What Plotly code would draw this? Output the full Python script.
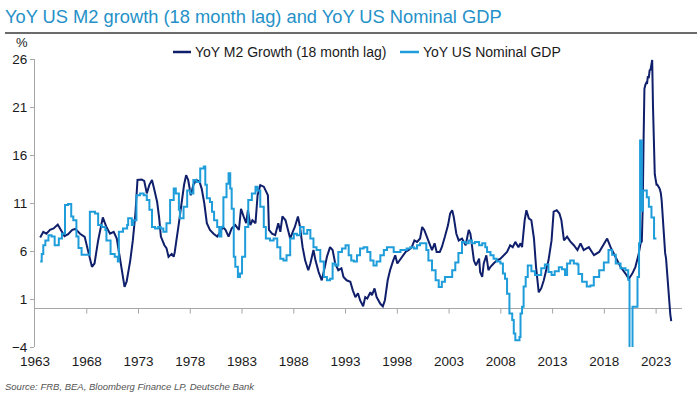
import plotly.graph_objects as go

# ---------------- data ----------------
m2_year = [1963.5, 1963.8, 1964.1, 1964.45, 1964.8, 1965.2, 1965.5, 1965.85, 1966.2, 1966.6,
           1966.9, 1967.35, 1967.8, 1968.1, 1968.5, 1968.75, 1969.1, 1969.55, 1969.9, 1970.25,
           1970.6, 1970.9, 1971.3, 1971.65, 1971.85, 1972.2, 1972.45, 1972.7, 1972.9, 1973.3,
           1973.55, 1973.8, 1974.05, 1974.3, 1974.5, 1974.8, 1975.0, 1975.16, 1975.5, 1975.7,
           1975.9, 1976.2, 1976.4, 1976.5, 1976.9, 1977.2, 1977.4, 1977.6, 1977.8, 1978.05,
           1978.3, 1978.6, 1978.9, 1979.1, 1979.35, 1979.6, 1979.9, 1980.25, 1980.6, 1980.9,
           1981.15, 1981.4, 1981.7, 1982.0, 1982.35, 1982.7, 1982.9, 1983.15, 1983.4, 1983.57,
           1983.8, 1984.0, 1984.3, 1984.5, 1984.76, 1985.1, 1985.3, 1985.5, 1985.6, 1985.9,
           1986.2, 1986.5, 1986.7, 1986.9, 1987.2, 1987.4, 1987.65, 1987.9, 1988.1, 1988.4,
           1988.6, 1988.85, 1989.1, 1989.4, 1989.6, 1989.9, 1990.1, 1990.4, 1990.7, 1991.0,
           1991.2, 1991.5, 1991.75, 1992.0, 1992.3, 1992.6, 1992.8, 1993.1, 1993.46, 1993.7,
           1993.95, 1994.2, 1994.4, 1994.7, 1994.9, 1995.1, 1995.4, 1995.55, 1995.8, 1996.0,
           1996.36, 1996.6, 1996.8, 1997.07, 1997.3, 1997.6, 1997.8, 1998.0, 1998.3, 1998.55,
           1998.8, 1999.1, 1999.4, 1999.65, 1999.9, 2000.2, 2000.4, 2000.6, 2000.9, 2001.1,
           2001.35, 2001.6, 2001.8, 2002.1, 2002.3, 2002.6, 2002.9, 2003.1, 2003.3, 2003.45,
           2003.7, 2003.93, 2004.25, 2004.6, 2004.9, 2005.06, 2005.4, 2005.6, 2005.9, 2006.0,
           2006.2, 2006.35, 2006.6, 2006.8, 2007.0, 2007.3, 2007.6, 2007.96, 2008.3, 2008.6,
           2008.9, 2009.15, 2009.4, 2009.7, 2009.9, 2010.05, 2010.3, 2010.47, 2010.7, 2010.95,
           2011.2, 2011.4, 2011.66, 2011.9, 2012.15, 2012.4, 2012.6, 2012.9, 2013.1, 2013.4,
           2013.66, 2013.85, 2014.1, 2014.4, 2014.7, 2015.05, 2015.4, 2015.7, 2016.0, 2016.5,
           2017.0, 2017.5, 2017.8, 2018.1, 2018.27, 2018.6, 2019.1, 2019.56, 2020.04, 2020.36,
           2020.7, 2021.0, 2021.3, 2021.5, 2021.62, 2021.7, 2021.79, 2021.87, 2021.96, 2022.04,
           2022.12, 2022.2, 2022.29, 2022.37, 2022.46, 2022.54, 2022.62, 2022.7, 2022.79, 2022.87,
           2022.96, 2023.04, 2023.12, 2023.21, 2023.29, 2023.37, 2023.46, 2023.54, 2023.62, 2023.71,
           2023.79, 2023.87, 2023.96, 2024.04, 2024.12, 2024.21, 2024.29, 2024.37, 2024.46]
m2_value = [7.4, 8.0, 7.8, 8.2, 8.35, 8.76, 8.2, 7.55, 7.75, 8.2,
            8.3, 7.8, 7.48, 6.1, 4.35, 4.7, 7.1, 9.5, 8.5, 7.8,
            8.0, 7.3, 4.7, 2.26, 2.8, 5.0, 7.1, 9.9, 13.4, 13.45,
            13.3, 12.0, 12.9, 13.4, 12.5, 11.1, 9.4, 7.5, 6.6, 6.3,
            5.4, 5.7, 5.4, 5.9, 8.9, 11.6, 12.9, 13.9, 13.4, 11.8,
            12.9, 13.4, 13.2, 12.5, 11.0, 8.9, 8.2, 7.8, 7.5, 8.0,
            8.5, 8.2, 7.5, 8.35, 8.7, 8.2, 10.4, 9.6, 8.9, 10.25,
            8.7, 9.2, 8.9, 11.8, 12.86, 12.7, 12.3, 11.8, 8.2, 7.8,
            7.65, 8.9, 8.0, 9.6, 9.2, 8.2, 7.3, 8.0, 8.5, 9.6,
            8.5, 6.4, 5.0, 4.0, 4.7, 6.1, 5.0, 3.8, 2.95, 4.35,
            5.4, 6.4, 6.1, 4.7, 4.0, 4.2, 3.3, 2.95, 2.8, 1.9,
            1.2, 1.6, 0.87, 0.24, 1.2, 1.05, 1.7, 1.4, 2.1, 1.2,
            0.5, 0.24, 0.87, 2.95, 4.0, 5.0, 5.55, 4.7, 5.2, 5.55,
            5.9, 6.1, 6.4, 7.1, 6.95, 7.3, 8.5, 8.2, 7.3, 6.8,
            6.1, 6.8, 5.9, 5.9, 6.4, 7.5, 8.7, 9.9, 10.25, 9.55,
            7.8, 7.1, 7.3, 6.6, 8.2, 7.8, 5.0, 4.5, 5.2, 3.8,
            3.3, 4.7, 5.55, 4.0, 4.35, 4.7, 5.0, 5.2, 5.55, 5.9,
            6.6, 6.4, 6.95, 6.4, 6.8, 6.4, 9.2, 10.25, 9.4, 9.2,
            7.3, 4.35, 1.7, 2.1, 2.95, 4.0, 5.0, 7.1, 10.1, 10.25,
            9.9, 9.2, 7.1, 7.5, 7.0, 6.6, 6.1, 6.8, 6.1, 6.4,
            5.56, 5.9, 6.4, 7.0, 7.3, 6.4, 5.4, 4.35, 3.65, 3.1,
            3.65, 4.35, 5.6, 6.8, 7.0, 10.3, 17.6, 22.9, 23.3, 23.5,
            23.4, 24.2, 24.0, 24.8, 24.9, 25.3, 25.9, 21.0, 16.5, 14.0,
            13.4, 12.9, 12.9, 12.8, 12.6, 12.4, 12.0, 11.2, 9.8, 7.9,
            6.5, 5.8, 5.2, 4.0, 2.7, 1.5, 0.4, -0.6, -1.3]

gdp_year = [1963.5, 1963.65, 1963.8, 1964.0, 1964.3, 1964.6, 1964.9, 1965.3, 1965.6, 1965.9,
            1966.2, 1966.5, 1966.7, 1967.0, 1967.2, 1967.5, 1968.0, 1968.3, 1968.8, 1969.1,
            1969.45, 1969.8, 1969.9, 1970.3, 1970.7, 1971.0, 1971.1, 1971.5, 1971.9, 1972.0,
            1972.35, 1972.5, 1972.8, 1973.15, 1973.5, 1973.8, 1974.05, 1974.3, 1974.6, 1974.9,
            1975.15, 1975.4, 1975.7, 1976.05, 1976.4, 1976.6, 1976.9, 1977.0, 1977.35, 1977.7,
            1978.0, 1978.3, 1978.6, 1978.96, 1979.3, 1979.45, 1979.6, 1979.9, 1980.1, 1980.3,
            1980.6, 1980.8, 1981.0, 1981.2, 1981.5, 1981.7, 1981.86, 1982.0, 1982.2, 1982.35,
            1982.6, 1982.8, 1983.0, 1983.3, 1983.6, 1983.95, 1984.3, 1984.5, 1984.76, 1985.1,
            1985.3, 1985.7, 1986.05, 1986.4, 1986.7, 1987.0, 1987.3, 1987.65, 1988.0, 1988.3,
            1988.6, 1988.95, 1989.3, 1989.6, 1989.9, 1990.2, 1990.56, 1990.9, 1991.2, 1991.5,
            1991.75, 1992.0, 1992.3, 1992.65, 1993.0, 1993.3, 1993.55, 1993.8, 1994.1, 1994.4,
            1994.75, 1995.1, 1995.4, 1995.7, 1996.0, 1996.36, 1996.7, 1997.0, 1997.3, 1997.65,
            1997.97, 1998.3, 1998.6, 1998.9, 1999.26, 1999.6, 1999.9, 2000.2, 2000.55, 2000.8,
            2001.0, 2001.35, 2001.7, 2002.0, 2002.3, 2002.6, 2002.97, 2003.3, 2003.6, 2003.9,
            2004.25, 2004.6, 2004.9, 2005.2, 2005.5, 2005.9, 2006.2, 2006.5, 2006.67, 2007.0,
            2007.3, 2007.6, 2007.96, 2008.2, 2008.4, 2008.6, 2008.83, 2009.1, 2009.25, 2009.4,
            2009.66, 2009.8, 2009.9, 2010.05, 2010.2, 2010.4, 2010.6, 2010.95, 2011.3, 2011.6,
            2011.9, 2012.25, 2012.6, 2012.9, 2013.2, 2013.6, 2013.9, 2014.2, 2014.4, 2014.7,
            2015.05, 2015.4, 2015.5, 2015.85, 2016.3, 2016.65, 2016.98, 2017.5, 2017.95, 2018.4,
            2018.75, 2019.1, 2019.56, 2020.04, 2020.3, 2020.43, 2020.72, 2021.2, 2021.35, 2021.45,
            2021.62, 2021.72, 2022.1, 2022.3, 2022.55, 2022.8, 2023.03]
gdp_value = [4.9, 5.7, 6.6, 7.1, 7.65, 7.5, 6.6, 7.3, 7.8, 10.8,
             10.9, 9.6, 9.2, 7.5, 6.3, 5.6, 5.6, 10.1, 9.9, 8.7,
             8.5, 8.2, 7.1, 5.7, 5.4, 4.9, 8.0, 8.35, 8.7, 9.4,
             8.7, 9.2, 11.8, 12.0, 11.8, 11.3, 10.3, 8.5, 8.35, 8.5,
             8.35, 8.0, 8.9, 11.3, 12.5, 12.0, 10.3, 9.4, 10.6, 12.3,
             12.0, 13.4, 13.2, 14.6, 14.8, 12.9, 11.5, 11.1, 10.1, 9.2,
             8.5, 7.5, 8.5, 11.6, 13.0, 14.1, 12.5, 10.4, 5.4, 4.35,
             3.3, 3.65, 5.4, 8.5, 11.3, 12.0, 12.7, 12.3, 10.6, 8.5,
             7.3, 7.1, 7.3, 6.4, 5.2, 5.0, 5.55, 7.3, 7.8, 7.65,
             8.5, 7.8, 8.2, 7.3, 6.4, 6.1, 4.9, 3.3, 2.95, 3.1,
             4.7, 4.5, 5.9, 6.25, 6.6, 5.55, 5.0, 4.9, 5.55, 6.25,
             6.4, 5.9, 5.0, 4.5, 4.9, 5.55, 6.1, 6.4, 6.4, 5.9,
             5.9, 6.1, 6.1, 6.25, 6.4, 6.25, 6.6, 6.8, 6.8, 6.1,
             5.0, 4.0, 2.95, 2.26, 2.8, 3.3, 3.3, 4.0, 4.8, 5.8,
             6.95, 6.8, 7.1, 6.8, 6.95, 6.6, 6.8, 6.4, 5.9, 5.55,
             5.2, 4.9, 4.7, 3.65, 3.1, 1.55, -0.5, -1.2, -2.6, -3.3,
             -3.3, -2.95, -0.5, 0.2, 2.3, 3.3, 4.5, 3.9, 3.5, 3.5,
             4.2, 4.6, 3.8, 3.5, 3.9, 4.3, 4.1, 3.5, 4.7, 5.0,
             4.7, 4.6, 3.6, 2.8, 2.3, 2.4, 3.3, 4.0, 4.8, 6.1,
             5.6, 4.7, 4.2, 4.0, 3.0, -8.0, 0.2, 3.3, 6.8, 17.5,
             10.2, 12.3, 11.6, 10.6, 9.5, 7.3, 7.3]

tick_years = [1963, 1968, 1973, 1978, 1983, 1988, 1993, 1998, 2003, 2008, 2013, 2018, 2023]
tick_labels = [str(t) for t in tick_years]
y_ticks = [-4, 1, 6, 11, 16, 21, 26]

series_names = ["YoY M2 Growth (18 month lag)", "YoY US Nominal GDP"]
title_text = "YoY US M2 growth (18 month lag) and YoY US Nominal GDP"
source_text = "Source: FRB, BEA, Bloomberg Finance LP, Deutsche Bank"

# ---------------- styling ----------------
W, H = 700, 394
ML, MR, MT, MB = 35, 18, 59, 47
PW, PH = W - ML - MR, H - MT - MB
FONT = "Liberation Sans, Arial, sans-serif"
NAVY = "#0f1f6b"
LIGHT = "#1e9dda"
TITLE_C = "#2591c8"
AXIS_C = "#a6a6a6"
TEXT_C = "#1a1a1a"


def px_x(px):
    return (px - ML) / PW


def px_y(py):
    return (H - MB - py) / PH


fig = go.Figure()
fig.add_trace(go.Scatter(x=m2_year, y=m2_value, mode="lines", name=series_names[0],
                         line=dict(color=NAVY, width=2), showlegend=False, hoverinfo="skip"))
fig.add_trace(go.Scatter(x=gdp_year, y=gdp_value, mode="lines", name=series_names[1],
                         line=dict(color=LIGHT, width=2, shape="hv"), showlegend=False,
                         hoverinfo="skip"))

shapes = []
# x tick marks hanging below the zero line
y0_paper = (0 - y_ticks[0]) / (y_ticks[-1] - y_ticks[0])
for t in tick_years[1:]:
    shapes.append(dict(type="line", xref="x", yref="paper", x0=t, x1=t,
                       y0=y0_paper, y1=y0_paper - 5 / PH,
                       line=dict(color=AXIS_C, width=1)))
# rule under the title
shapes.append(dict(type="line", xref="paper", yref="paper", x0=px_x(5), x1=px_x(697),
                   y0=px_y(33), y1=px_y(33), line=dict(color="#3a3a3a", width=1.5)))
# legend samples
legend_items = [(173, 191, 193, NAVY, series_names[0]), (400, 419, 421, LIGHT, series_names[1])]
annotations = []
for xa, xb, xt, col, name in legend_items:
    shapes.append(dict(type="line", xref="paper", yref="paper", x0=px_x(xa), x1=px_x(xb),
                       y0=px_y(52), y1=px_y(52), line=dict(color=col, width=2.5)))
    annotations.append(dict(text=name, xref="paper", yref="paper", x=px_x(xt), y=px_y(52),
                            xanchor="left", yanchor="middle", showarrow=False,
                            font=dict(family=FONT, size=14, color=TEXT_C)))

annotations.append(dict(text="%", xref="paper", yref="paper", x=px_x(22), y=px_y(42),
                        xanchor="center", yanchor="middle", showarrow=False,
                        font=dict(family=FONT, size=13, color=TEXT_C)))
annotations.append(dict(text="<i>" + source_text + "</i>", xref="paper", yref="paper",
                        x=px_x(3), y=px_y(394), xanchor="left", yanchor="bottom",
                        showarrow=False, font=dict(family=FONT, size=9.5, color="#555555")))

fig.update_layout(
    width=W, height=H,
    margin=dict(l=ML, r=MR, t=MT, b=MB, pad=0),
    paper_bgcolor="white", plot_bgcolor="white",
    title=dict(text=title_text, x=5 / W, xanchor="left", y=1 - 17 / H, yanchor="middle",
               font=dict(family=FONT, size=18.3, color=TITLE_C)),
    xaxis=dict(range=[1963, 2025.5], tickvals=tick_years, ticktext=tick_labels,
               showgrid=False, zeroline=False, showline=False, ticks="",
               tickfont=dict(family=FONT, size=13.5, color=TEXT_C), ticklabelstandoff=4),
    yaxis=dict(range=[y_ticks[0], y_ticks[-1]], tickvals=y_ticks, showgrid=False,
               zeroline=True, zerolinecolor=AXIS_C, zerolinewidth=1,
               showline=True, linecolor=AXIS_C, linewidth=1,
               ticks="outside", ticklen=4, tickcolor=AXIS_C,
               tickfont=dict(family=FONT, size=13.5, color=TEXT_C)),
    shapes=shapes, annotations=annotations,
    showlegend=False,
)

fig.write_html("out.html", config={"displayModeBar": False},
               post_script="document.body.style.margin='0';document.body.style.overflow='hidden';")
